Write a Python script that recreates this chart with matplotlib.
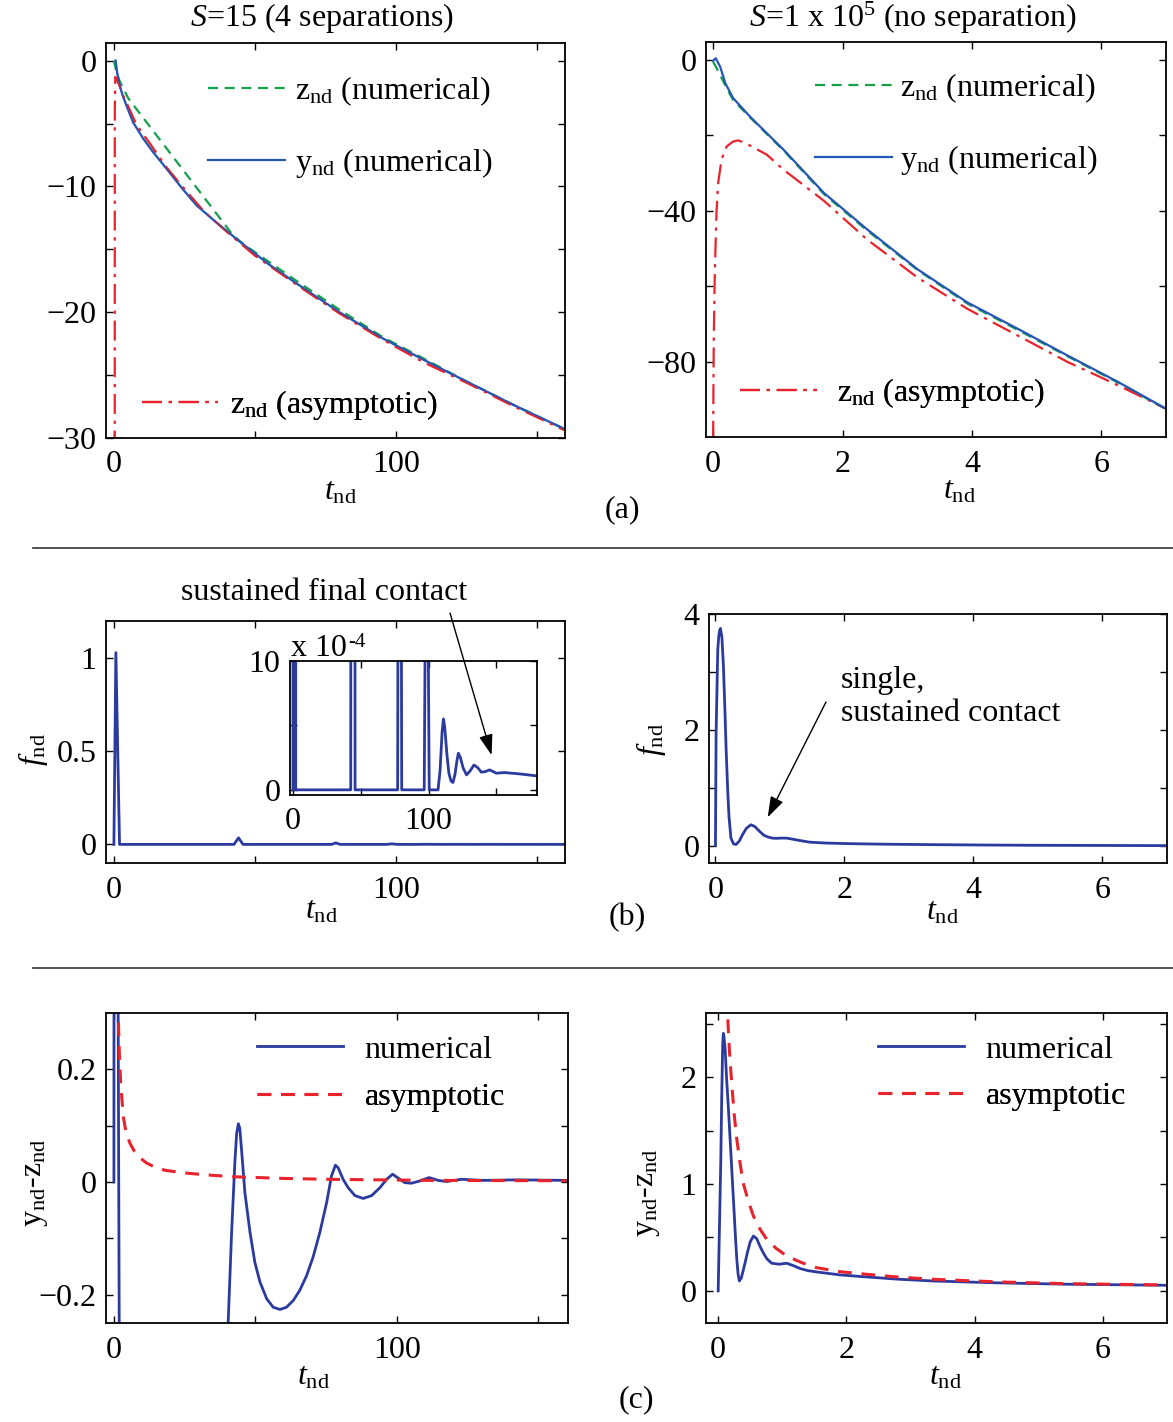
import matplotlib
matplotlib.use('Agg')
import matplotlib.pyplot as plt
from matplotlib.lines import Line2D

plt.rcParams['font.family'] = ['Liberation Serif', 'DejaVu Serif']
plt.rcParams['mathtext.fontset'] = 'custom'
plt.rcParams['mathtext.rm'] = 'Liberation Serif'
plt.rcParams['mathtext.it'] = 'Liberation Serif:italic'
plt.rcParams['mathtext.bf'] = 'Liberation Serif:bold'
plt.rcParams['font.size'] = 23
plt.rcParams['axes.linewidth'] = 1.3

# ---- data ----
# (a) left: S = 15
t_y15 = [0.6, 0.9, 1.2, 1.6, 2.1, 3.0, 4.5, 6.8, 10.4, 14, 18.7, 24, 29.3, 36, 44.7, 55, 66,
         80, 95.5, 110, 125, 142, 160]
y_y15 = [0, -0.5, -1.0, -1.5, -2.0, -2.7, -3.6, -4.9, -6.2, -7.3, -8.6, -10.1, -11.5, -12.8,
         -14.4, -16.2, -17.9, -20.0, -22.1, -23.8, -25.5, -27.4, -29.3]
t_z15 = [0, 0.9, 2.0, 5.1, 42.3, 46, 55, 66, 80, 95.5, 110, 125, 142, 160]
z_z15 = [0, -0.9, -1.6, -3.0, -13.9, -14.6, -16.0, -17.7, -19.8, -22.0, -23.7, -25.5, -27.4, -29.3]
t_za15 = [0.3, 0.32, 0.5, 1.0, 2, 3.3, 5, 8, 12.8, 18.7, 25, 32, 40, 50, 66, 80, 95.5, 110,
          125, 142, 160]
z_za15 = [-31, -4, -1.3, -1.5, -2.0, -2.8, -3.6, -5.1, -6.6, -8.5, -10.2, -12.0, -13.6, -15.5,
          -18.0, -20.1, -22.2, -24.0, -25.6, -27.5, -29.4]

# (a) right: S = 1e5
t_y5 = [0, 0.04, 0.11, 0.19, 0.31, 0.57, 1.09, 1.71, 2.38, 3.16, 3.93, 4.71, 5.48, 6.26, 7.0]
y_y5 = [-0.2, 0.5, -1.8, -6.2, -10.1, -15.0, -23.8, -35.2, -44.9, -55.5, -64.3, -71.3, -78.4,
        -85.4, -92.5]
t_z5 = [0, 0.05, 0.11, 0.21, 0.31, 0.57, 1.09, 1.71, 2.38, 3.16, 3.93, 4.71, 5.48, 6.26, 7.0]
z_z5 = [-0.5, -2.0, -4.0, -7.5, -10.6, -15.2, -24.0, -35.5, -45.2, -55.7, -64.6, -71.6, -78.6,
        -85.6, -92.6]
t_za5 = [0, 0.01, 0.026, 0.052, 0.078, 0.13, 0.21, 0.31, 0.39, 0.52, 0.83, 1.09, 1.71,
         2.38, 3.16, 3.93, 4.71, 5.48, 6.26, 7.0]
z_za5 = [-101, -74, -56.4, -40.5, -32.6, -26.4, -22.9, -21.6, -21.3, -22.2, -25.1, -29.1, -37.3,
         -47.6, -57.7, -66.0, -73.1, -80.1, -86.3, -92.5]

# (b) contact force
t_f15 = [0, 0.7, 2.0, 42.6, 44.2, 45.8, 77.2, 78.7, 80.2, 96.8, 98.6, 100.5, 107, 108.5, 110,
         111, 112, 113.5, 115, 116.5, 118, 119.5, 121, 122, 123.5, 125.5, 128, 130.5, 133.5,
         136, 139, 142, 145, 148, 150, 153, 156, 167, 180]
f_f15 = [0, 1.03, 0, 0, 0.035, 0, 0, 0.008, 0, 0, 0.003, 0, 0, 1.5e-4, 4.5e-4,
         5.5e-4, 4.8e-4, 2.8e-4, 1.3e-4, 0.7e-4, 0.57e-4, 1.2e-4, 2.3e-4, 2.84e-4, 2.5e-4,
         1.7e-4, 1.16e-4, 1.45e-4, 1.93e-4, 1.75e-4, 1.37e-4, 1.42e-4, 1.55e-4, 1.4e-4,
         1.29e-4, 1.32e-4, 1.34e-4, 1.24e-4, 1.08e-4]
t_f5 = [0, 0.01, 0.036, 0.05, 0.065, 0.078, 0.1, 0.124, 0.145, 0.166, 0.19, 0.21, 0.24, 0.28,
        0.32, 0.37, 0.42, 0.48, 0.55, 0.61, 0.68, 0.75, 0.81, 0.88, 0.94, 1.02, 1.1, 1.18,
        1.25, 1.35, 1.46, 1.7, 2.08, 2.6, 3.37, 4.1, 4.9, 6, 7.0]
f_f5 = [0, 1.94, 3.38, 3.6, 3.72, 3.75, 3.6, 3.09, 2.4, 1.65, 0.95, 0.5, 0.13, 0.03,
        0.02, 0.08, 0.19, 0.3, 0.36, 0.33, 0.25, 0.18, 0.15, 0.13, 0.126, 0.13, 0.13, 0.115,
        0.10, 0.08, 0.06, 0.045, 0.034, 0.025, 0.017, 0.011, 0.006, 0.003, 0.0]

# (c) y_nd - z_nd
t_d15 = [0, 0.05, 1.3, 2.1, 38.0, 40.4, 41.6, 42.8, 43.4, 44.0, 44.5, 45.1, 46.3, 48.1, 49.8,
         51.6, 54, 56.3, 58.7, 61.0, 63.4, 65.7, 68.1, 70.4, 72.8, 75.2, 76.9, 78.3, 79.3, 81,
         82.8, 85.2, 88.1, 91.1, 94, 96.4, 98.5, 100.5, 102.8, 105.2, 108.1, 111.4, 114.6,
         117.6, 122.9, 130.5, 142.3, 160.5]
d_d15 = [0, 0.6, 0.6, -0.6, -0.6, -0.247, -0.089, 0.040, 0.087, 0.1035, 0.095, 0.058, -0.019,
         -0.089, -0.142, -0.177, -0.207, -0.222, -0.226, -0.222, -0.21, -0.192, -0.166, -0.133,
         -0.089, -0.036, 0.011, 0.030, 0.025, 0.005, -0.01, -0.024, -0.029, -0.024, -0.01,
         0.005, 0.014, 0.007, -0.001, -0.002, 0.002, 0.008, 0.003, 0.001, 0.005, 0.003, 0.004,
         0.003]
t_da15 = [1.2, 1.5, 1.9, 2.4, 3.3, 4.3, 5.65, 7.2, 9.2, 11.5, 13.9, 18, 24.5, 32, 42.2, 60,
          77.5, 112.8, 160]
d_da15 = [0.45, 0.3, 0.23, 0.175, 0.116, 0.088, 0.069, 0.055, 0.043, 0.034, 0.028, 0.021,
          0.0165, 0.013, 0.0095, 0.0065, 0.0048, 0.003, 0.0024]
t_d5 = [0, 0.02, 0.04, 0.055, 0.07, 0.08, 0.09, 0.109, 0.13, 0.16, 0.2, 0.24, 0.27, 0.29,
        0.31, 0.33, 0.36, 0.39, 0.42, 0.46, 0.5, 0.55, 0.6, 0.65, 0.7, 0.76, 0.835, 0.95, 1.07,
        1.18, 1.28, 1.4, 1.53, 1.9, 2.31, 2.8, 3.35, 4.39, 5.42, 6.98]
d_d5 = [0, 0.6, 1.2, 1.8, 2.3, 2.41, 2.38, 2.26, 2.0, 1.70, 1.27, 0.83, 0.50, 0.30,
        0.16, 0.093, 0.12, 0.19, 0.265, 0.37, 0.46, 0.514, 0.49, 0.42, 0.36, 0.30, 0.259, 0.25,
        0.259, 0.235, 0.209, 0.19, 0.178, 0.15, 0.131, 0.11, 0.093, 0.075, 0.063, 0.053]
t_da5 = [0.12, 0.145, 0.175, 0.21, 0.25, 0.29, 0.34, 0.39, 0.47, 0.55, 0.65, 0.76, 0.9, 1.07,
         1.3, 1.53, 1.9, 2.31, 2.8, 3.35, 4.39, 5.42, 6.98]
d_da5 = [3.2, 2.6, 2.25, 1.95, 1.65, 1.42, 1.2, 1.01, 0.84, 0.70, 0.58, 0.48, 0.40, 0.327,
         0.265, 0.218, 0.18, 0.156, 0.13, 0.109, 0.084, 0.068, 0.056]

# colours
c_blue = '#2b3a9e'
c_blue2 = '#2456b4'
c_green = '#15a04a'
c_red = '#e8232b'
MINUS = '\u2212'

W, H = 1173, 1422
fig = plt.figure(figsize=(W / 100, H / 100), dpi=100)


def rect(l, t, r, b):
    return [l / W, 1 - b / H, (r - l) / W, (b - t) / H]


def style(ax):
    ax.tick_params(direction='in', top=True, right=True, length=5, width=1)
    ax.tick_params(axis='x', pad=9)
    ax.tick_params(axis='y', pad=7)


def lab(v):
    s = ('%g' % v)
    return s.replace('-', MINUS)


def key(ax, line, text, x, y, hl, pad):
    leg = ax.legend([line], [text], loc='center left', bbox_to_anchor=(x, y),
                    frameon=False, borderpad=0, borderaxespad=0,
                    handlelength=hl, handletextpad=pad)
    ax.add_artist(leg)


arrow = dict(arrowstyle='-|>,head_length=0.9,head_width=0.3', color='black', lw=1,
             mutation_scale=14, shrinkA=0, shrinkB=0)
tlab = r'$t_{\mathrm{nd}}$'
xt = [0, 50, 100, 150]

# ---------- (a) left ----------
ax = fig.add_axes(rect(106, 43, 565, 438))
style(ax)
lz, = ax.plot(t_z15, z_z15, color=c_green, lw=1.6, ls=(0, (4.5, 3)))
ly, = ax.plot(t_y15, y_y15, color=c_blue2, lw=1.6)
la, = ax.plot(t_za15, z_za15, color=c_red, lw=1.6, ls=(0, (9, 3, 1.5, 3)))
ax.plot(t_y15, y_y15, color=c_blue2, lw=1.2, alpha=0.6)
ax.set_xlim(-2.8, 160)
ax.set_ylim(-30, 1.4)
ax.set_xticks(xt, labels=[lab(v) if v % 100 == 0 else '' for v in xt])
yt = [-30, -25, -20, -15, -10, -5, 0]
ax.set_yticks(yt, labels=[lab(v) if v % 10 == 0 else '' for v in yt])
ax.set_xlabel(tlab)
ax.xaxis.set_label_coords(0.51, -0.10)
key(ax, lz, r'z$_{\mathrm{nd}}$ (numerical)', 0.222, 0.878, 2.4, 0.33)
key(ax, ly, r'y$_{\mathrm{nd}}$ (numerical)', 0.222, 0.696, 2.4, 0.33)
key(ax, la, r'z$_{\mathrm{nd}}$ (asymptotic)', 0.078, 0.084, 2.4, 0.37)

# ---------- (a) right ----------
ax = fig.add_axes(rect(706, 42, 1166, 437))
style(ax)
lz, = ax.plot(t_z5, z_z5, color=c_green, lw=1.6, ls=(0, (4.5, 3)))
la, = ax.plot(t_za5, z_za5, color=c_red, lw=1.6, ls=(0, (9, 3, 1.5, 3)))
ly, = ax.plot(t_y5, y_y5, color=c_blue2, lw=1.6)
ax.set_xlim(-0.11, 7.0)
ax.set_ylim(-100, 4.8)
ax.set_xticks([0, 2, 4, 6], labels=['0', '2', '4', '6'])
yt = [-80, -60, -40, -20, 0]
ax.set_yticks(yt, labels=[lab(v) if v % 40 == 0 else '' for v in yt])
ax.set_xlabel(tlab)
ax.xaxis.set_label_coords(0.55, -0.10)
key(ax, lz, r'z$_{\mathrm{nd}}$ (numerical)', 0.237, 0.884, 2.4, 0.27)
key(ax, ly, r'y$_{\mathrm{nd}}$ (numerical)', 0.237, 0.701, 2.4, 0.27)
key(ax, la, r'z$_{\mathrm{nd}}$ (asymptotic)', 0.074, 0.111, 2.4, 0.65)

# ---------- (b) left ----------
ax = fig.add_axes(rect(106, 621, 565, 863))
style(ax)
ax.plot(t_f15, f_f15, color=c_blue, lw=2)
ax.set_xlim(-2.8, 160)
ax.set_ylim(-0.1, 1.2)
ax.set_xticks(xt, labels=[lab(v) if v % 100 == 0 else '' for v in xt])
ax.set_yticks([0, 0.5, 1], labels=['0', '0.5', '1'])
ax.set_xlabel(tlab)
ax.xaxis.set_label_coords(0.47, -0.14)
ax.set_ylabel(r'$f_{\mathrm{nd}}$')
ax.yaxis.set_label_coords(-0.122, 0.47)

ins = fig.add_axes(rect(290, 661, 537, 795))
style(ins)
ins.plot(t_f15, [v * 1e4 for v in f_f15], color=c_blue, lw=2)
ins.set_xlim(-2.2, 180)
ins.set_ylim(-0.4, 10)
ins.set_xticks(xt, labels=[lab(v) if v % 100 == 0 else '' for v in xt])
ins.set_yticks([0, 5, 10], labels=['0', '', '10'])
scale_txt = fig.text(291 / W, 1 - 649 / H, 'x 10', ha='left', va='center')
ins.annotate('-4', xy=(1, 1), xycoords=scale_txt, xytext=(1, 1),
             textcoords='offset points', ha='left', va='top', fontsize=15)
fig.text(181 / W, 1 - 593 / H, 'sustained final contact', ha='left', va='center')
ins.annotate('', xy=(146.5, 2.7), xycoords='data',
             xytext=(450 / W, 1 - 613 / H), textcoords='figure fraction', arrowprops=arrow)

# ---------- (b) right ----------
ax = fig.add_axes(rect(709, 614, 1167, 863))
style(ax)
ax.plot(t_f5, f_f5, color=c_blue, lw=2)
ax.set_xlim(-0.1, 7)
ax.set_ylim(-0.3, 4)
ax.set_xticks([0, 2, 4, 6], labels=['0', '2', '4', '6'])
ax.set_yticks([0, 1, 2, 3, 4], labels=['0', '', '2', '', '4'])
ax.set_xlabel(tlab)
ax.xaxis.set_label_coords(0.51, -0.14)
ax.set_ylabel(r'$f_{\mathrm{nd}}$')
ax.yaxis.set_label_coords(-0.09, 0.494)
fig.text(841 / W, 1 - 697 / H, 'single,\nsustained contact', ha='left', va='center')
ax.annotate('', xy=(0.81, 0.49), xycoords='data',
            xytext=(826 / W, 1 - 702 / H), textcoords='figure fraction', arrowprops=arrow)

# ---------- (c) left ----------
ax = fig.add_axes(rect(106, 1013, 568, 1323))
style(ax)
ln, = ax.plot(t_d15, d_d15, color=c_blue, lw=2)
lasy, = ax.plot(t_da15, d_da15, color=c_red, lw=2.2, ls=(0, (4.5, 3.2)))
ax.set_xlim(-2.8, 160.5)
ax.set_ylim(-0.25, 0.3)
ax.set_xticks(xt, labels=[lab(v) if v % 100 == 0 else '' for v in xt])
yt = [-0.2, -0.1, 0, 0.1, 0.2]
ax.set_yticks(yt, labels=[lab(v) if v in (-0.2, 0, 0.2) else '' for v in yt])
ax.set_xlabel(tlab)
ax.xaxis.set_label_coords(0.45, -0.126)
ax.set_ylabel(r'y$_{\mathrm{nd}}$-z$_{\mathrm{nd}}$')
ax.yaxis.set_label_coords(-0.121, 0.452)
key(ax, ln, 'numerical', 0.327, 0.881, 2.7, 0.67)
key(ax, lasy, 'asymptotic', 0.327, 0.729, 2.7, 0.67)

# ---------- (c) right ----------
ax = fig.add_axes(rect(706, 1013, 1167, 1323))
style(ax)
ln, = ax.plot(t_d5, d_d5, color=c_blue, lw=2)
lasy, = ax.plot(t_da5, d_da5, color=c_red, lw=2.2, ls=(0, (4.5, 3.2)))
ax.set_xlim(-0.19, 7)
ax.set_ylim(-0.3, 2.6)
ax.set_xticks([0, 2, 4, 6], labels=['0', '2', '4', '6'])
yt = [0, 0.5, 1, 1.5, 2, 2.5]
ax.set_yticks(yt, labels=[lab(v) if v in (0, 1, 2) else '' for v in yt])
ax.set_xlabel(tlab)
ax.xaxis.set_label_coords(0.52, -0.126)
ax.set_ylabel(r'y$_{\mathrm{nd}}$-z$_{\mathrm{nd}}$')
ax.yaxis.set_label_coords(-0.095, 0.42)
key(ax, ln, 'numerical', 0.373, 0.881, 2.7, 0.67)
key(ax, lasy, 'asymptotic', 0.373, 0.732, 2.7, 0.67)

# ---------- titles, panel tags, separators ----------
fig.text(322 / W, 1 - 18 / H, r'$S$=15 (4 separations)', ha='center', va='center')
fig.text(913 / W, 1 - 18 / H, r'$S$=1 x 10$^{5}$ (no separation)', ha='center', va='center')
fig.text(622 / W, 1 - 510 / H, '(a)', ha='center', va='center')
fig.text(627 / W, 1 - 918 / H, '(b)', ha='center', va='center')
fig.text(636 / W, 1 - 1400 / H, '(c)', ha='center', va='center')
for yy in (548, 968):
    fig.add_artist(Line2D([33 / W, 1.0], [1 - yy / H, 1 - yy / H], color='#333333', lw=1.2))

fig.savefig('out.png', dpi=100, facecolor='white')
